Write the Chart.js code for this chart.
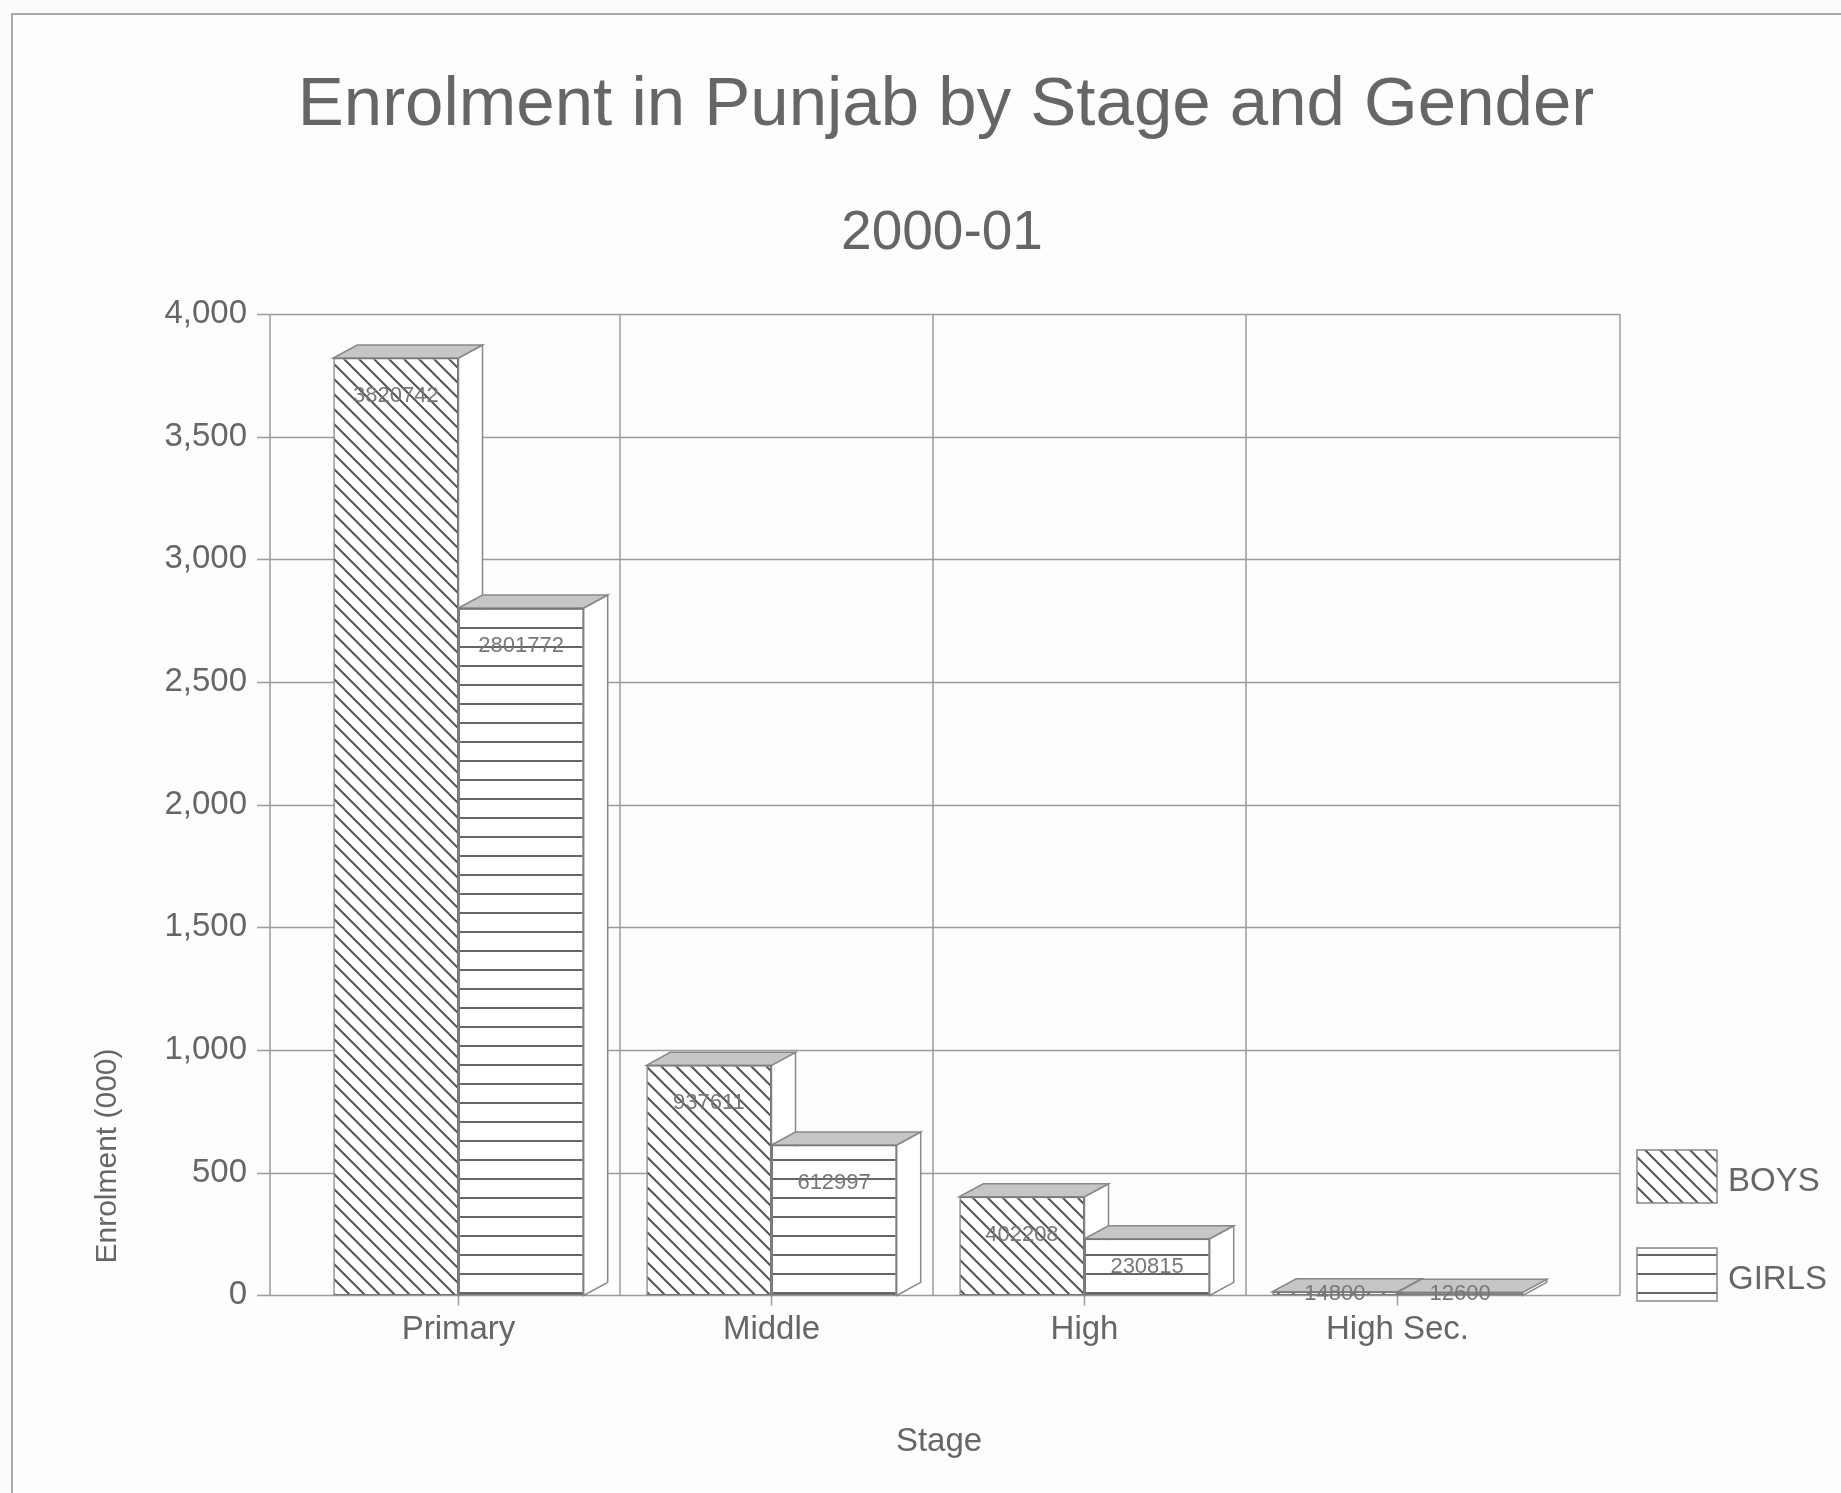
<!DOCTYPE html>
<html>
<head>
<meta charset="utf-8">
<title>Enrolment in Punjab by Stage and Gender</title>
<script src="https://cdn.jsdelivr.net/npm/chart.js@4.4.1/dist/chart.umd.min.js"></script>
<style>
  html, body { margin: 0; padding: 0; background: #fbfbfb; }
  #wrap { width: 1841px; height: 1493px; }
</style>
</head>
<body>
<div id="wrap"><canvas id="enrolChart" width="1841" height="1493"></canvas></div>
<script>
// Data (enrolment counts, axis is in thousands)
const stages = ['Primary', 'Middle', 'High', 'High Sec.'];
const boys = [3820742, 937611, 402208, 14800];
const girls = [2801772, 612997, 230815, 12600];
const seriesNames = ['BOYS', 'GIRLS'];
const yMin = 0, yMax = 4000, yStep = 500;

const chartTitle = 'Enrolment in Punjab by Stage and Gender';
const chartSubtitle = '2000-01';
const xTitle = 'Stage';
const yTitle = 'Enrolment (000)';

const FONT = '"Liberation Sans", Arial, sans-serif';
const TEXT = '#666';
const GRID = '#9c9c9c';
const DX = 24, DY = -13; // 3d depth offset

const canvas = document.getElementById('enrolChart');
const ctx = canvas.getContext('2d');

// hatch patterns
function diagPattern() {
  const s = 15;
  const c = document.createElement('canvas');
  c.width = s; c.height = s;
  const g = c.getContext('2d');
  g.fillStyle = '#fff';
  g.fillRect(0, 0, s, s);
  g.strokeStyle = '#555';
  g.lineWidth = 2;
  g.beginPath();
  g.moveTo(-3, -3); g.lineTo(s + 3, s + 3);
  g.moveTo(-3, s - 3); g.lineTo(3, s + 3);
  g.moveTo(s - 3, -3); g.lineTo(s + 3, 3);
  g.stroke();
  return ctx.createPattern(c, 'repeat');
}
function horizPattern() {
  const c = document.createElement('canvas');
  c.width = 4; c.height = 19;
  const g = c.getContext('2d');
  g.fillStyle = '#fff';
  g.fillRect(0, 0, 4, 19);
  g.fillStyle = '#666';
  g.fillRect(0, 0, 4, 2);
  return ctx.createPattern(c, 'repeat');
}
const patterns = [diagPattern(), horizPattern()];

const depthPlugin = {
  id: 'depth',
  beforeDraw(chart) {
    const c = chart.ctx;
    const area = chart.chartArea;
    const x = chart.scales.x, y = chart.scales.y;
    const wallL = 270, wallR = 1620;
    c.save();
    c.fillStyle = '#fdfdfd';
    c.fillRect(12, 14, chart.width, chart.height);
    c.strokeStyle = '#aaa';
    c.lineWidth = 2;
    c.beginPath();
    c.moveTo(12, chart.height); c.lineTo(12, 14); c.lineTo(chart.width, 14);
    c.stroke();

    c.strokeStyle = GRID;
    c.lineWidth = 1.5;
    c.beginPath();
    // horizontal gridlines + y tick marks
    y.ticks.forEach(t => {
      const py = Math.round(y.getPixelForValue(t.value)) + 0.5;
      c.moveTo(257, py); c.lineTo(wallR, py);
    });
    // walls
    c.moveTo(wallL, area.top); c.lineTo(wallL, area.bottom);
    c.moveTo(wallR, area.top); c.lineTo(wallR, area.bottom);
    // category boundaries
    for (let i = 0; i < stages.length - 1; i++) {
      const px = (x.getPixelForValue(i) + x.getPixelForValue(i + 1)) / 2 + 5;
      c.moveTo(px, area.top); c.lineTo(px, area.bottom);
    }
    // x tick marks at category centres
    stages.forEach((s, i) => {
      const px = x.getPixelForValue(i);
      c.moveTo(px, area.bottom); c.lineTo(px, area.bottom + 10);
    });
    c.stroke();

    // titles
    c.fillStyle = TEXT;
    c.textAlign = 'center';
    c.textBaseline = 'middle';
    c.font = '69px ' + FONT;
    c.fillText(chartTitle, 946, 106);
    c.font = '55px ' + FONT;
    c.fillText(chartSubtitle, 942, 234);
    c.font = '33px ' + FONT;
    c.fillText(xTitle, 939, 1442);
    c.save();
    c.translate(108, 1156);
    c.rotate(-Math.PI / 2);
    c.font = '30px ' + FONT;
    c.fillText(yTitle, 0, 0);
    c.restore();
    c.restore();
  },
  beforeDatasetsDraw(chart) {
    const c = chart.ctx;
    c.save();
    c.lineWidth = 1.5;
    c.strokeStyle = '#888';
    chart.data.datasets.forEach((ds, i) => {
      chart.getDatasetMeta(i).data.forEach(bar => {
        const l = bar.x - bar.width / 2, r = bar.x + bar.width / 2;
        const t = bar.y, b = bar.base;
        c.beginPath();
        c.moveTo(r, t); c.lineTo(r + DX, t + DY); c.lineTo(r + DX, b + DY); c.lineTo(r, b);
        c.closePath();
        c.fillStyle = '#fff';
        c.fill(); c.stroke();
        c.beginPath();
        c.moveTo(l, t); c.lineTo(l + DX, t + DY); c.lineTo(r + DX, t + DY); c.lineTo(r, t);
        c.closePath();
        c.fillStyle = '#c6c6c6';
        c.fill(); c.stroke();
      });
    });
    c.restore();
  },
  afterDatasetsDraw(chart) {
    const c = chart.ctx;
    c.save();
    // value labels
    c.fillStyle = '#777';
    c.font = '22px ' + FONT;
    c.textAlign = 'center';
    c.textBaseline = 'middle';
    const raw = [boys, girls];
    chart.data.datasets.forEach((ds, i) => {
      chart.getDatasetMeta(i).data.forEach((bar, j) => {
        const h = bar.base - bar.y;
        c.fillText(String(raw[i][j]), bar.x, bar.y + Math.min(38, h / 2));
      });
    });
    // legend
    const boxes = [1150, 1248];
    seriesNames.forEach((name, i) => {
      c.fillStyle = patterns[i];
      c.fillRect(1637, boxes[i], 80, 53);
      c.strokeStyle = '#888';
      c.lineWidth = 1.5;
      c.strokeRect(1637, boxes[i], 80, 53);
      c.fillStyle = TEXT;
      c.font = '33px ' + FONT;
      c.textAlign = 'left';
      c.fillText(name, 1728, boxes[i] + 32);
    });
    c.restore();
  }
};

new Chart(ctx, {
  type: 'bar',
  data: {
    labels: stages,
    datasets: [
      {
        label: seriesNames[0],
        data: boys.map(v => v / 1000),
        backgroundColor: patterns[0],
        borderColor: '#777',
        borderWidth: 1.5,
        borderSkipped: false
      },
      {
        label: seriesNames[1],
        data: girls.map(v => v / 1000),
        backgroundColor: patterns[1],
        borderColor: '#777',
        borderWidth: 1.5,
        borderSkipped: false
      }
    ]
  },
  options: {
    responsive: false,
    animation: false,
    categoryPercentage: 0.8,
    barPercentage: 1.0,
    layout: { padding: { left: 0, top: 314, right: 287, bottom: 128 } },
    scales: {
      x: {
        grid: { display: false, drawTicks: false },
        border: { display: false },
        ticks: { color: TEXT, font: { family: FONT, size: 33 }, padding: 15 }
      },
      y: {
        min: yMin,
        max: yMax,
        grid: { display: false, drawTicks: false },
        border: { display: false },
        ticks: { stepSize: yStep, color: TEXT, font: { family: FONT, size: 33 }, padding: 55 },
        afterFit(scale) { scale.width = 302; }
      }
    },
    plugins: {
      legend: { display: false },
      tooltip: { enabled: false }
    }
  },
  plugins: [depthPlugin]
});
</script>
</body>
</html>
